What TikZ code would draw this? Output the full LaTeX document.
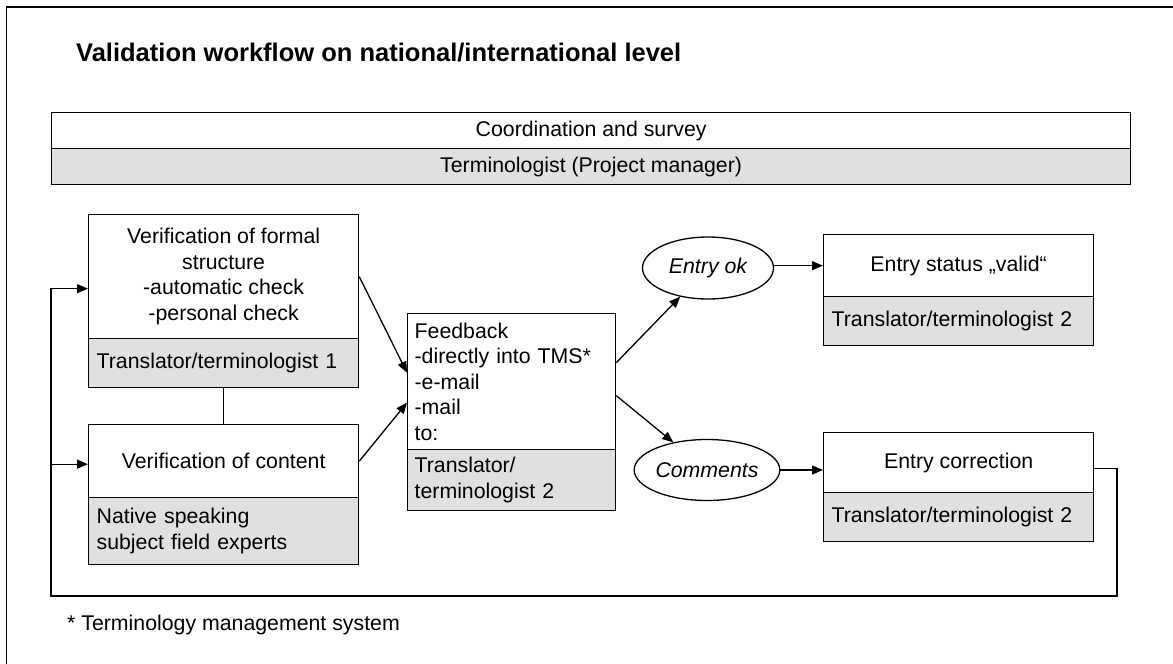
\documentclass[tikz,border=0pt]{standalone}
\usepackage{fontspec}
\setmainfont{Liberation Sans}
\usetikzlibrary{arrows.meta,shapes.geometric}
\definecolor{rolegray}{HTML}{E0E0E0}
\tikzset{
  cell/.style={draw, line width=1.3pt, anchor=north west, inner sep=0pt,
    font=\fontsize{21.3}{25.5}\selectfont},
  whitecell/.style={cell, fill=white, align=center},
  graycell/.style={cell, fill=rolegray, align=left, inner xsep=8pt},
  oval/.style={draw, ellipse, line width=1.3pt, inner sep=0pt,
    font=\fontsize{21.3}{25.5}\selectfont\itshape},
  link/.style={line width=1.3pt},
  flow/.style={link, -{Triangle[length=11pt,width=9pt]}},
}
\begin{document}
\begin{tikzpicture}[x=1pt,y=-1pt]
\useasboundingbox (0,0) rectangle (1173,664);
\fill[white] (0,0) rectangle (1173,664);
% outer frame (only top and left edges fall inside the page)
\draw[line width=1.5pt] (6.5,664) -- (6.5,7) -- (1173,7);

% heading
\node[anchor=base west, font=\fontsize{25.5}{30}\selectfont\bfseries, inner sep=0pt]
  (title) at (76,61) {Validation workflow on national/international level};

% coordination band
\node[whitecell, minimum width=1079pt, minimum height=36pt] (coord) at (51,112)
  {Coordination and survey};
\node[whitecell, fill=rolegray, minimum width=1079pt, minimum height=36pt] (pm) at (51,148)
  {Terminologist (Project manager)};

% verification of formal structure
\node[whitecell, minimum width=270pt, minimum height=124pt] (vf) at (88,214)
  {Verification of formal\\structure\\-automatic check\\-personal check};
\node[graycell, text width=254pt, minimum height=49pt] (vft) at (88,338)
  {Translator/terminologist 1};

% verification of content
\node[whitecell, minimum width=270pt, minimum height=73pt] (vc) at (88,424)
  {Verification of content};
\node[graycell, text width=254pt, minimum height=67pt] (vct) at (88,497)
  {Native speaking\\subject field experts};

% feedback
\node[cell, fill=white, align=left, inner xsep=7pt, text width=194pt, minimum height=136pt] (fb) at (407,313)
  {Feedback\\-directly into TMS*\\-e-mail\\-mail\\to:};
\node[graycell, inner xsep=7pt, text width=194pt, minimum height=61pt] (fbt) at (407,449)
  {Translator/\\terminologist 2};

% decisions
\node[oval, minimum width=131pt, minimum height=62pt] (ok) at (708,268) {Entry ok};
\node[oval, minimum width=135pt, minimum height=61pt] (cm) at (707,470) {Comments};

% results
\node[whitecell, minimum width=270pt, minimum height=62pt] (es) at (823,234)
  {Entry status „valid“};
\node[graycell, text width=254pt, minimum height=49pt] (est) at (823,296)
  {Translator/terminologist 2};
\node[whitecell, minimum width=270pt, minimum height=60pt] (ec) at (823,432)
  {Entry correction};
\node[graycell, text width=254pt, minimum height=49pt] (ect) at (823,492)
  {Translator/terminologist 2};

% footnote
\node[anchor=west, inner sep=0pt, font=\fontsize{21.3}{25.5}\selectfont] (note) at (67,625)
  {* Terminology management system};

% connector end points on the box sides
\coordinate (vfin) at ([yshift=-12pt]vf.west);
\coordinate (vcin) at ([yshift=-3pt]vc.west);
\coordinate (fbin1) at ([yshift=9pt]fb.west);
\coordinate (fbin2) at ([yshift=-21pt]fb.west);
\coordinate (fbout1) at ([yshift=19pt]fb.east);
\coordinate (fbout2) at ([yshift=-14pt]fb.east);
\coordinate (ecout) at ([yshift=-6pt]ec.east);

% connectors
\draw[link] (vft.south) -- (vc.north);
\draw[flow] (vf.east) -- (fbin1);
\draw[flow] (vc.east) -- (fbin2);
\draw[flow] (fbout1) -- (ok);
\draw[flow] (fbout2) -- (cm);
\draw[flow] (ok.east |- es.west) -- (es.west);
\draw[flow] (cm.east) -- (cm.east -| ec.west);

% return loop back to both verification steps
\coordinate (loopR) at (1117,596);
\coordinate (loopL) at (51,596);
\draw[flow] (ecout) -| (loopR) -- (loopL) |- (vfin);
\draw[flow] (loopL |- vcin) -- (vcin);
\end{tikzpicture}
\end{document}
